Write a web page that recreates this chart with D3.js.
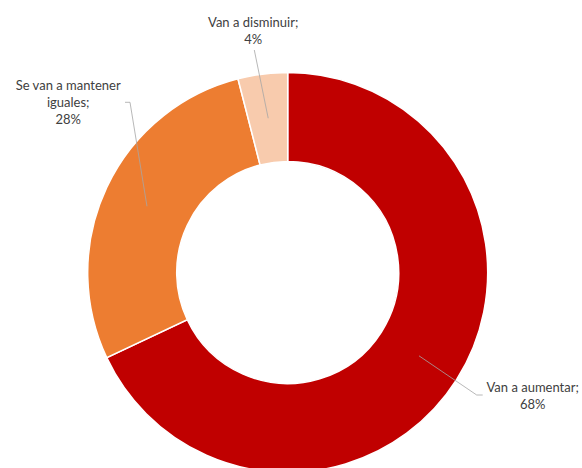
<!DOCTYPE html>
<html><head><meta charset="utf-8">
<script src="https://cdn.jsdelivr.net/npm/d3@7"></script>
<style>
html,body{margin:0;padding:0;background:#fff;}
svg{display:block;}
text{font-family:Lato,"Open Sans",sans-serif;font-size:13px;fill:#404040;}
</style></head>
<body>
<script>
const categories = ["Van a aumentar", "Se van a mantener iguales", "Van a disminuir"];
const values = [68, 28, 4];
const colors = ["#C00000", "#ED7D31", "#F8CBAD"];
const labelLines = [["Van a aumentar;", "68%"], ["Se van a mantener", "iguales;", "28%"], ["Van a disminuir;", "4%"]];

const W = 582, H = 468;
const cx = 287.7, cy = 272.5, rOuter = 200, rInner = 111;
// label text anchor (center, first baseline) relative to chart center, and leader end points
const labelLayout = [
  {tx: 245, ty: 119.5, end: [[189, 122.5], [195, 122.5]]},
  {tx: -219.5, ty: -183, end: [[-157.7, -170.2], [-162.7, -170.2]]},
  {tx: -34.5, ty: -245.2, end: [[-33.4, -222.5]]}
];

const svg = d3.select("body").append("svg").attr("width", W).attr("height", H);
const g = svg.append("g").attr("transform", `translate(${cx},${cy})`);

const pie = d3.pie().sort(null).value(d => d);
const arcs = pie(values);
const arc = d3.arc().innerRadius(rInner).outerRadius(rOuter);

g.selectAll("path.slice").data(arcs).enter().append("path")
  .attr("class", "slice")
  .attr("d", arc)
  .attr("fill", (d, i) => colors[i])
  .attr("stroke", "#fff").attr("stroke-width", 1.5);

arcs.forEach((a, i) => {
  const c = arc.centroid(a);
  const pts = [c].concat(labelLayout[i].end);
  g.append("path")
    .attr("d", d3.line()(pts))
    .attr("fill", "none").attr("stroke", "#A6A6A6").attr("stroke-width", 0.8);
  const t = g.append("text").attr("text-anchor", "middle")
    .attr("x", labelLayout[i].tx).attr("y", labelLayout[i].ty);
  labelLines[i].forEach((ln, j) => {
    t.append("tspan").attr("x", labelLayout[i].tx).attr("dy", j === 0 ? 0 : 17).text(ln);
  });
});
</script>
</body></html>
